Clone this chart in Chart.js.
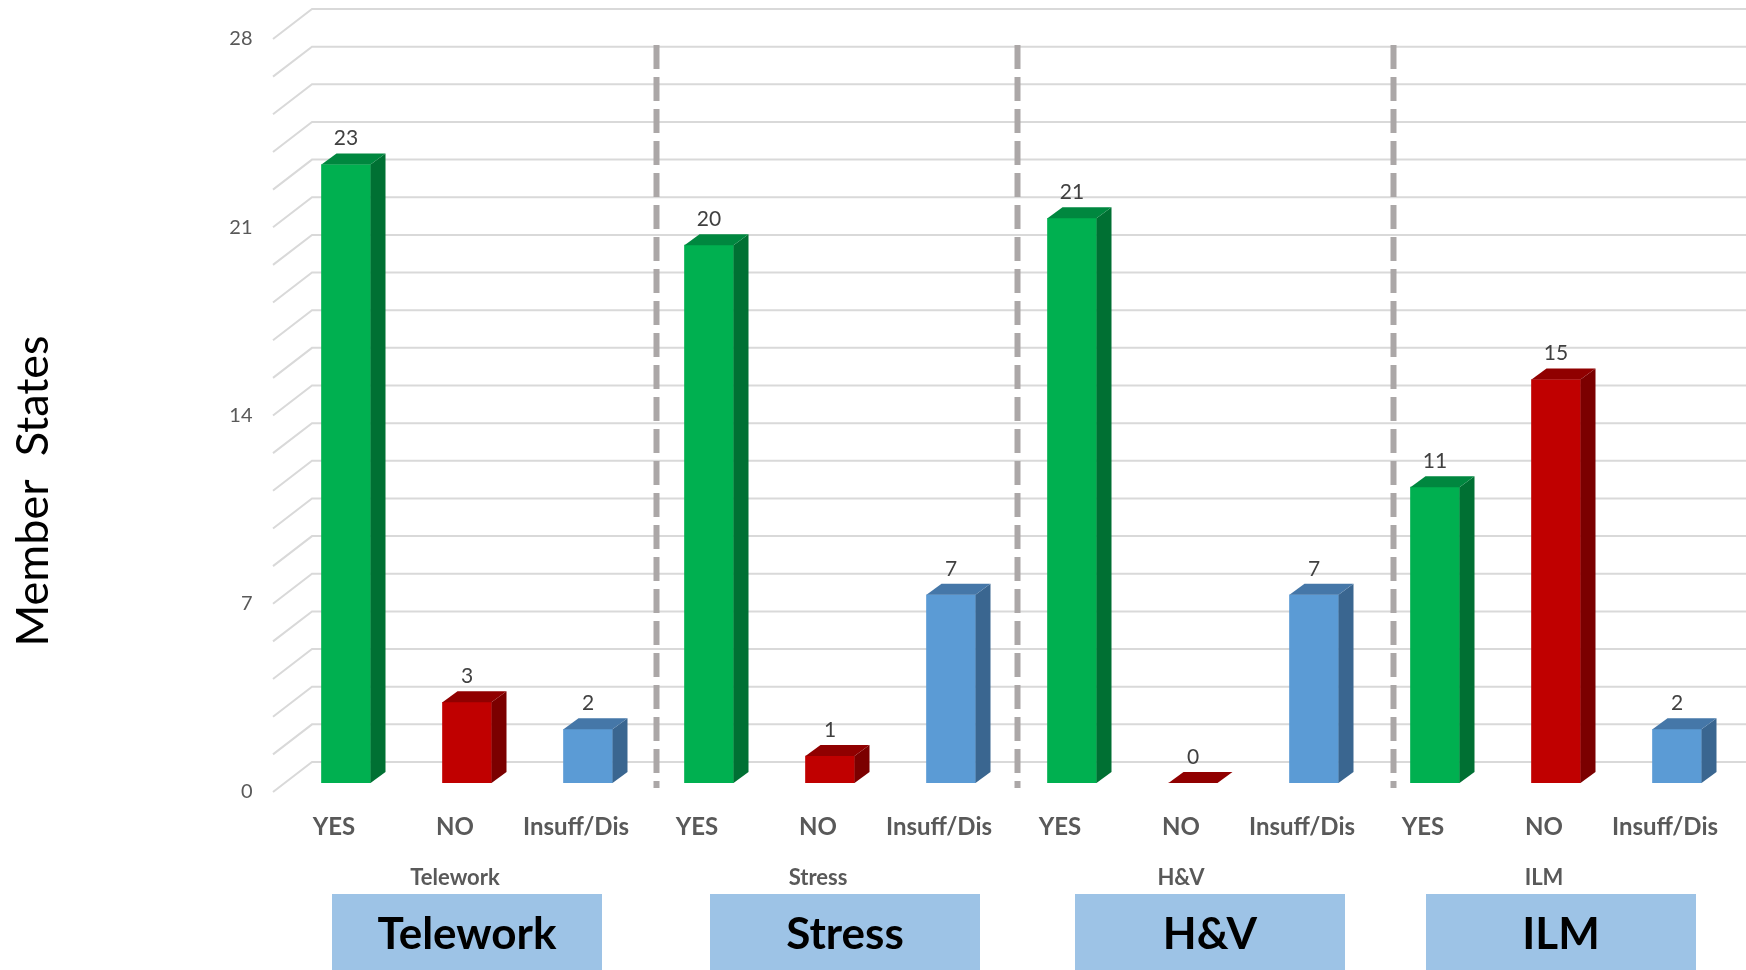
<!DOCTYPE html>
<html>
<head>
<meta charset="utf-8">
<script src="https://cdn.jsdelivr.net/npm/chart.js@4"></script>
<style>
    body { margin: 0; background: #fff; }
    #wrap { width: 1746px; height: 970px; }
</style>
</head>
<body>
<div id="wrap"><canvas id="memberStatesChart" width="1746" height="970"></canvas></div>
<script>
// Chart data
const topics = ['Telework', 'Stress', 'H&V', 'ILM'];
const answers = ['YES', 'NO', 'Insuff/Dis'];
const telework = [23, 3, 2];
const stress = [20, 1, 7];
const healthVoice = [21, 0, 7];
const ilm = [11, 15, 2];
const yTicks = [0, 7, 14, 21, 28];
const minorStep = 1.4;
const yTitle = 'Member  States';

// Colours per answer (front / side / top face)
const frontColors = ['#00B050', '#C00000', '#5B9BD5'];
const sideColors = ['#007033', '#7B0000', '#3A6690'];
const topColors = ['#00873F', '#900000', '#4577A8'];

const labels = [];
topics.forEach(() => answers.forEach(a => labels.push(a)));
const values = [].concat(telework, stress, healthVoice, ilm);

// 3D look: depth of bars and of the back wall
const BAR_DX = 15, BAR_DY = 11;
const WALL_LEFT = 273, WALL_BACK_X = 312, WALL_FRONT_DY = 9, WALL_BACK_DY = 21;
// hand placed overlay shapes (separators and topic boxes), offsets in px
const sepShift = [8, 6, 19];
const boxShift = [0, 15, 17, 5];

const depthPlugin = {
    id: 'depth3d',
    beforeDatasetsDraw(chart) {
        const ctx = chart.ctx;
        const y = chart.scales.y;
        ctx.save();
        ctx.strokeStyle = '#d9d9d9';
        ctx.lineWidth = 2;
        const n = Math.round(28 / minorStep);
        for (let i = 0; i <= n; i++) {
            const py = y.getPixelForValue(i * minorStep);
            ctx.beginPath();
            ctx.moveTo(WALL_LEFT, py + WALL_FRONT_DY);
            ctx.lineTo(WALL_BACK_X, py - WALL_BACK_DY);
            ctx.lineTo(chart.width, py - WALL_BACK_DY);
            ctx.stroke();
        }
        ctx.restore();
    },
    afterDatasetsDraw(chart) {
        const ctx = chart.ctx;
        const meta = chart.getDatasetMeta(0);
        ctx.save();
        meta.data.forEach((bar, i) => {
            const {x, y, base, width} = bar.getProps(['x', 'y', 'base', 'width'], true);
            const l = x - width / 2, r = x + width / 2;
            const k = i % 3;
            // side face
            if (base - y > 0) {
                ctx.fillStyle = sideColors[k];
                ctx.beginPath();
                ctx.moveTo(r, y);
                ctx.lineTo(r + BAR_DX, y - BAR_DY);
                ctx.lineTo(r + BAR_DX, base - BAR_DY);
                ctx.lineTo(r, base);
                ctx.closePath();
                ctx.fill();
            }
            // top face
            ctx.fillStyle = topColors[k];
            ctx.beginPath();
            ctx.moveTo(l, y);
            ctx.lineTo(l + BAR_DX, y - BAR_DY);
            ctx.lineTo(r + BAR_DX, y - BAR_DY);
            ctx.lineTo(r, y);
            ctx.closePath();
            ctx.fill();
            // value label
            ctx.fillStyle = '#404040';
            ctx.font = '21px Lato';
            ctx.textAlign = 'center';
            ctx.textBaseline = 'middle';
            ctx.fillText(values[i], x, y - 26);
        });
        ctx.restore();
    },
    afterDraw(chart) {
        const ctx = chart.ctx;
        const xs = chart.scales.x;
        const ys = chart.scales.y;
        ctx.save();
        // y axis title
        ctx.save();
        ctx.translate(33, 491);
        ctx.rotate(-Math.PI / 2);
        ctx.fillStyle = '#000';
        ctx.font = '45px Lato';
        ctx.textAlign = 'center';
        ctx.textBaseline = 'middle';
        ctx.fillText(yTitle, 0, 0);
        ctx.restore();
        // dashed separators between topics
        ctx.strokeStyle = '#ABA7A7';
        ctx.lineWidth = 6;
        ctx.setLineDash([24, 8]);
        for (let t = 1; t < topics.length; t++) {
            const k = t * 3;
            const px = (xs.getPixelForValue(k - 1) + xs.getPixelForValue(k)) / 2 + sepShift[t - 1];
            ctx.beginPath();
            ctx.moveTo(px, ys.getPixelForValue(28) + 15);
            ctx.lineTo(px, ys.getPixelForValue(0) + 5);
            ctx.stroke();
        }
        ctx.setLineDash([]);
        // topic names and boxes
        topics.forEach((name, t) => {
            const cx = xs.getPixelForValue(t * 3 + 1);
            ctx.fillStyle = '#595959';
            ctx.font = 'bold 22px Lato';
            ctx.textAlign = 'center';
            ctx.textBaseline = 'middle';
            ctx.fillText(name, cx - 12, 878);

            const bx = cx + boxShift[t];
            ctx.fillStyle = '#9DC3E6';
            ctx.fillRect(bx - 135, 894, 270, 76);
            ctx.fillStyle = '#000';
            ctx.font = 'bold 44px Lato';
            ctx.fillText(name, bx, 935);
        });
        ctx.restore();
    }
};

const ctx = document.getElementById('memberStatesChart');

new Chart(ctx, {
    type: 'bar',
    data: {
        labels: labels,
        datasets: [{
            data: values,
            backgroundColor: values.map((v, i) => frontColors[i % 3]),
            borderWidth: 0,
            barThickness: 49
        }]
    },
    options: {
        responsive: false,
        animation: false,
        layout: {
            padding: { top: 30, right: 8.5, left: 0, bottom: 0 }
        },
        plugins: {
            legend: { display: false },
            tooltip: { enabled: false }
        },
        scales: {
            x: {
                grid: { display: false, drawTicks: false },
                border: { display: false },
                ticks: {
                    padding: 30,
                    labelOffset: -12,
                    autoSkip: false,
                    maxRotation: 0,
                    color: '#595959',
                    font: { family: 'Lato', size: 24, weight: 'bold' }
                },
                afterFit: (scale) => {
                    scale.height = 187;
                    scale.paddingLeft = 0;
                    scale.paddingRight = 0;
                }
            },
            y: {
                min: 0,
                max: 28,
                afterBuildTicks: (scale) => { scale.ticks = yTicks.map(v => ({ value: v })); },
                grid: { display: false, drawTicks: false },
                border: { display: false },
                ticks: {
                    padding: 33,
                    labelOffset: 9,
                    color: '#595959',
                    font: { family: 'Lato', size: 20 }
                },
                afterFit: (scale) => {
                    scale.width = 285.5;
                    scale.paddingTop = 0;
                    scale.paddingBottom = 0;
                }
            }
        }
    },
    plugins: [depthPlugin]
});
</script>
</body>
</html>
